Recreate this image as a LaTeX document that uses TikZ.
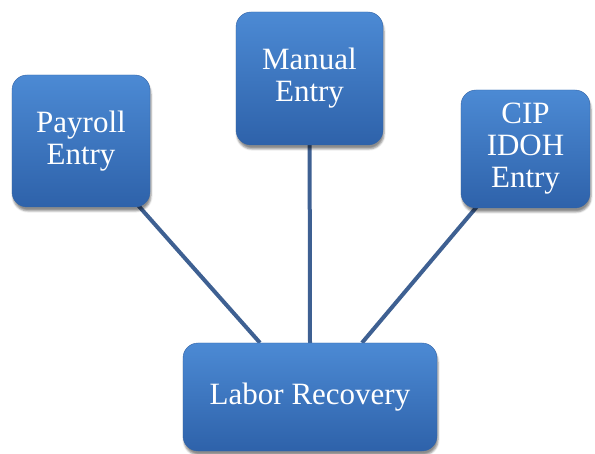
\documentclass[tikz,border=0pt]{standalone}
\usepackage{fontspec}
\setmainfont{Liberation Serif}
\usetikzlibrary{shadows.blur,backgrounds}
\definecolor{boxtop}{RGB}{76,138,212}
\definecolor{boxbottom}{RGB}{46,98,170}
\definecolor{boxedge}{RGB}{52,100,165}
\definecolor{linkblue}{RGB}{62,96,146}
\begin{document}
\begin{tikzpicture}[x=1pt, y=1pt,
  entrybox/.style={rounded corners=15pt, draw=boxedge, thin, top color=boxtop, bottom color=boxbottom,
    blur shadow={shadow xshift=1pt, shadow yshift=-4pt, shadow opacity=45},
    align=center, text=white, inner sep=0pt, font=\fontsize{31}{32}\selectfont},
  link/.style={draw=linkblue, line width=4pt}]
% Fix the page to the reference size
\useasboundingbox (0,0) rectangle (595,453);

% The four boxes
\node[entrybox, minimum width=138pt, minimum height=132pt] (payroll) at (81,312) {Payroll\\Entry};
\node[entrybox, minimum width=147pt, minimum height=133pt] (manual) at (309.5,374.5) {Manual\\Entry};
\node[entrybox, minimum width=129pt, minimum height=118pt] (cip) at (525.5,304) {CIP\\IDOH\\Entry};
\node[entrybox, minimum width=254pt, minimum height=108pt] (labor) at (310,56) {Labor Recovery};

% Connectors behind the boxes
\begin{pgfonlayer}{background}
\draw[link] (payroll.center) -- ([xshift=-50pt]labor.north);
\draw[link] (manual.center) -- (labor.north);
\draw[link] (cip.center) -- ([xshift=52pt]labor.north);
\end{pgfonlayer}
\end{tikzpicture}
\end{document}
